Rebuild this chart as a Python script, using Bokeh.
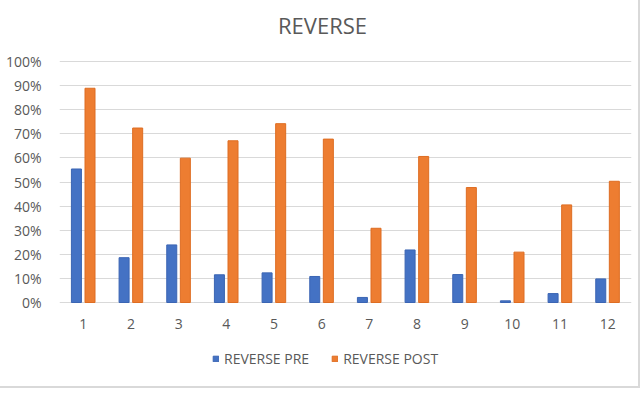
from bokeh.plotting import figure
from bokeh.models import ColumnDataSource, Legend, LegendItem, FixedTicker, NumeralTickFormatter, Range1d, Label
from bokeh.transform import dodge
from bokeh.embed import file_html
from bokeh.resources import INLINE

categories = [1, 2, 3, 4, 5, 6, 7, 8, 9, 10, 11, 12]
reverse_pre = [0.554, 0.186, 0.239, 0.115, 0.123, 0.108, 0.021, 0.218, 0.116, 0.007, 0.037, 0.098]
reverse_post = [0.889, 0.724, 0.599, 0.671, 0.742, 0.678, 0.308, 0.606, 0.477, 0.209, 0.405, 0.503]
y_ticks = [0, 0.1, 0.2, 0.3, 0.4, 0.5, 0.6, 0.7, 0.8, 0.9, 1.0]
title_text = "REVERSE"

src = ColumnDataSource(dict(x=categories, pre=reverse_pre, post=reverse_post))

FONT = "Open Sans"
TXT = "#595959"
GRID = "#d9d9d9"

p = figure(frame_width=572, frame_height=386, output_backend="svg", toolbar_location=None,
           x_range=Range1d(0.5, 12.5), y_range=Range1d(-0.3485, 1.2531),
           min_border_left=59, min_border_right=7, min_border_top=0, min_border_bottom=0)
p.styles = {"border-right": "2px solid #d9d9d9", "border-bottom": "2px solid #d9d9d9"}

p.add_layout(Label(x=263, y=362, x_units="screen", y_units="screen", text=title_text,
                   text_font=FONT, text_font_size="22px", text_color=TXT,
                   text_align="center", text_baseline="middle"))

r1 = p.vbar(x=dodge("x", -0.145, range=p.x_range), top="pre", width=0.21, source=src,
            fill_color="#4472C4", line_color="#3b65b3", line_width=1)
r2 = p.vbar(x=dodge("x", 0.14, range=p.x_range), top="post", width=0.21, source=src,
            fill_color="#ED7D31", line_color="#de6d22", line_width=1)

p.xaxis.ticker = FixedTicker(ticks=categories)
p.xaxis.fixed_location = 0
p.yaxis.ticker = FixedTicker(ticks=y_ticks)
p.yaxis.formatter = NumeralTickFormatter(format="0%")
for ax in (p.xaxis, p.yaxis):
    ax.axis_line_color = None
    ax.major_tick_line_color = None
    ax.minor_tick_line_color = None
    ax.major_label_text_font = FONT
    ax.major_label_text_font_size = "14px"
    ax.major_label_text_color = TXT
p.yaxis.major_label_standoff = 12
p.xaxis.major_label_standoff = 10

p.xgrid.grid_line_color = None
p.ygrid.grid_line_color = GRID
p.ygrid.grid_line_width = 1
p.outline_line_color = None

legend = Legend(items=[LegendItem(label="REVERSE PRE", renderers=[r1]),
                       LegendItem(label="REVERSE POST", renderers=[r2])],
                orientation="horizontal", location=(153, 18),
                label_text_font=FONT, label_text_font_size="14px", label_text_color=TXT,
                glyph_width=7, glyph_height=7, spacing=22, label_standoff=5,
                border_line_color=None, background_fill_alpha=0, margin=0, padding=0)
p.add_layout(legend, "center")

open("out.html", "w").write(file_html(p, INLINE))
